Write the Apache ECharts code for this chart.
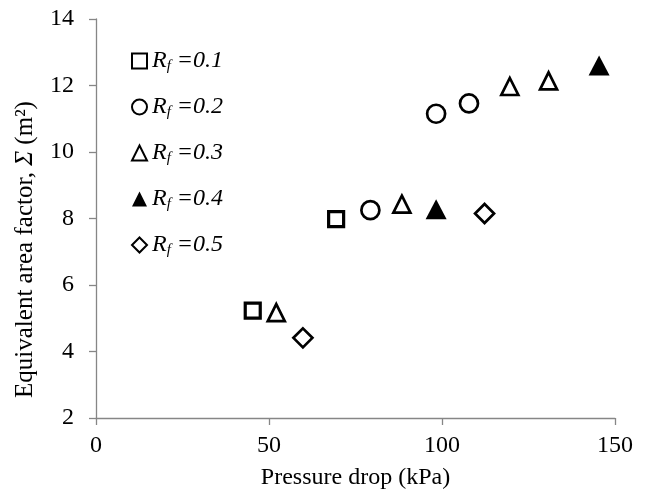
<!DOCTYPE html>
<html><head><meta charset="utf-8">
<script src="https://cdn.jsdelivr.net/npm/echarts@6/dist/echarts.min.js"></script>
<style>html,body{margin:0;padding:0;background:#fff}#c{width:652px;height:495px}</style>
</head><body><div id="c"></div>
<script>
// Data (x: pressure drop kPa, y: Σ m²)
const rfLabels = ['0.1', '0.2', '0.3', '0.4', '0.5'];
const rf01 = [[45.3, 5.23], [69.4, 7.98]];
const rf02 = [[79.3, 8.25], [98.3, 11.15], [107.8, 11.46]];
const rf03 = [[52.1, 5.17], [88.4, 8.43], [119.6, 11.97], [130.8, 12.14]];
const rf04 = [[98.3, 8.28], [145.4, 12.6]];
const rf05 = [[59.8, 4.41], [112.3, 8.15]];
const xTicks = [0, 50, 100, 150];
const yTicks = [2, 4, 6, 8, 10, 12, 14];

const FONT = 'Liberation Serif';
const FS = 24;
const axisCol = '#868686';
const seriesData = [rf01, rf02, rf03, rf04, rf05];
const symbols = ['rect', 'circle', 'triangle', 'triangle', 'diamond'];
const sizes = [15, 18, 17, [21, 20], 19];
const filled = [false, false, false, true, false];

const chart = echarts.init(document.getElementById('c'), null, {renderer: 'canvas'});
const series = seriesData.map((d, i) => ({
  type: 'scatter',
  name: 'Rf=' + rfLabels[i],
  data: d,
  symbol: symbols[i],
  symbolSize: sizes[i],
  itemStyle: filled[i]
    ? {color: '#000', borderColor: '#000', borderWidth: 0, opacity: 1}
    : {color: '#fff', borderColor: '#000', borderWidth: i === 0 ? 3.2 : 2.7, opacity: 1},
  emphasis: {disabled: true}
}));

chart.setOption({
  animation: false,
  backgroundColor: '#fff',
  grid: {left: 96, top: 19, width: 519, height: 400, containLabel: false},
  legend: {
    orient: 'vertical',
    left: 126,
    top: 44,
    itemWidth: 15,
    itemHeight: 15,
    itemGap: 21,
    data: series.map(s => s.name),
    formatter: function (name) {
      const v = name.split('=')[1];
      return '{r|R}{f|f}{t| =' + v + '}';
    },
    textStyle: {
      fontFamily: FONT,
      color: '#000',
      rich: {
        r: {fontFamily: FONT, fontStyle: 'italic', fontSize: FS, color: '#000', lineHeight: 26},
        f: {fontFamily: FONT, fontStyle: 'italic', fontSize: 15, color: '#000', verticalAlign: 'bottom', lineHeight: 14},
        t: {fontFamily: FONT, fontStyle: 'italic', fontSize: FS, color: '#000', lineHeight: 26}
      }
    }
  },
  xAxis: {
    type: 'value',
    min: xTicks[0],
    max: xTicks[xTicks.length - 1],
    interval: 50,
    name: 'Pressure drop (kPa)',
    nameLocation: 'middle',
    nameGap: 48,
    nameTextStyle: {fontFamily: FONT, fontSize: FS, color: '#000'},
    axisLine: {show: true, lineStyle: {color: axisCol, width: 1.3}},
    axisTick: {show: true, length: 7, lineStyle: {color: axisCol, width: 1.3}},
    axisLabel: {fontFamily: FONT, fontSize: FS, color: '#000', margin: 16},
    splitLine: {show: false}
  },
  yAxis: {
    type: 'value',
    min: yTicks[0],
    max: yTicks[yTicks.length - 1],
    interval: 2,
    name: '{a|Equivalent area factor, }{i|Σ}{a| (m²)}',
    nameLocation: 'middle',
    nameRotate: 90,
    nameGap: 58,
    nameTextStyle: {
      fontFamily: FONT, fontSize: 25, color: '#000',
      padding: [0, 62, 0, 0],
      rich: {
        a: {fontFamily: FONT, fontSize: 25, color: '#000'},
        i: {fontFamily: FONT, fontSize: 25, color: '#000', fontStyle: 'italic'}
      }
    },
    axisLine: {show: true, lineStyle: {color: axisCol, width: 1.3}},
    axisTick: {show: true, length: 7, lineStyle: {color: axisCol, width: 1.3}},
    axisLabel: {fontFamily: FONT, fontSize: FS, color: '#000', margin: 22},
    splitLine: {show: false}
  },
  series: series
});
</script>
</body></html>
